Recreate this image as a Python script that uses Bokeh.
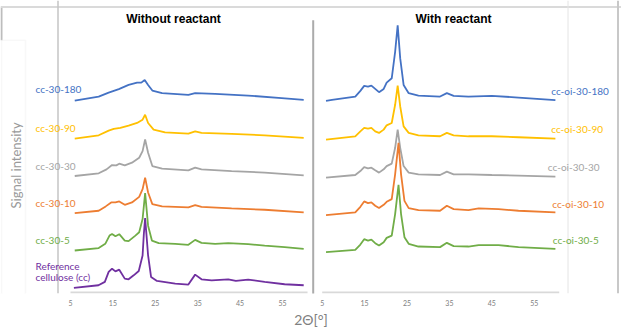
import numpy as np
from bokeh.plotting import figure
from bokeh.models import Range1d, Label, Span, BoxAnnotation, FixedTicker, CustomJSTickFormatter
from bokeh.embed import file_html
from bokeh.resources import INLINE

# ---------------- data (2θ in degrees, displayed signal in a.u.) ----------------
TICK_LABELS = [5, 15, 25, 35, 45, 55]

# Without reactant
ref_cc_x = [5.8, 11.6, 13.1, 14.0, 14.8, 15.6, 16.5, 17.8, 18.7, 19.9, 21.1, 22.0, 22.3, 22.6, 22.9, 23.3, 24.0, 25.4, 29.7, 32.8, 34.4, 35.9, 38.3, 42.2, 44.0, 46.9, 50.8, 55.5, 60.0]
ref_cc_y = [5.7, 8.3, 11.7, 21.7, 25.0, 22.3, 24.0, 15.0, 14.3, 18.3, 22.7, 38.3, 60.0, 76.0, 60.0, 38.3, 16.7, 12.7, 10.0, 9.0, 19.0, 14.3, 13.3, 14.3, 12.7, 14.0, 11.7, 9.3, 8.3]

cc_30_5_x = [6.0, 11.65, 13.2, 14.2, 14.8, 15.6, 16.5, 17.8, 18.7, 20.3, 21.2, 22.0, 22.6, 23.3, 24.2, 25.8, 29.7, 32.8, 34.4, 35.9, 39.1, 42.2, 46.9, 50.8, 55.5, 60.0]
cc_30_5_y = [43.3, 45.7, 50.0, 58.3, 60.0, 57.7, 59.7, 53.3, 52.7, 58.3, 61.7, 75.0, 101.0, 68.3, 53.3, 50.7, 50.0, 49.0, 54.0, 51.0, 50.0, 50.7, 49.7, 48.3, 46.7, 45.0]

cc_30_10_x = [6.0, 11.65, 13.3, 14.6, 15.6, 16.5, 17.8, 19.5, 21.2, 22.0, 22.6, 23.3, 24.3, 26.6, 32.8, 34.4, 35.9, 43.0, 50.8, 60.0]
cc_30_10_y = [81.0, 83.3, 87.7, 91.7, 91.7, 92.7, 89.3, 91.7, 97.3, 105.0, 116.7, 101.7, 90.0, 87.7, 86.7, 89.0, 87.3, 85.7, 84.3, 81.7]

cc_30_30_x = [6.0, 11.65, 13.5, 14.8, 15.8, 16.5, 17.8, 19.5, 21.2, 22.0, 22.6, 23.3, 24.3, 26.6, 32.8, 34.4, 35.9, 43.0, 50.8, 60.0]
cc_30_30_y = [118.3, 121.0, 125.0, 129.3, 129.0, 130.7, 129.0, 131.7, 136.7, 143.3, 155.0, 141.7, 128.3, 125.7, 124.0, 126.7, 125.0, 123.3, 121.7, 119.0]

cc_30_90_x = [6.0, 11.65, 14.0, 15.2, 16.75, 18.7, 20.7, 22.0, 22.6, 23.3, 24.6, 27.3, 32.8, 34.4, 35.9, 43.0, 50.8, 60.0]
cc_30_90_y = [156.0, 159.3, 164.0, 165.7, 166.7, 169.0, 171.7, 175.0, 180.0, 171.7, 165.0, 162.3, 161.0, 163.3, 161.7, 160.7, 159.3, 156.7]

cc_30_180_x = [6.0, 11.65, 14.0, 16.4, 18.7, 20.7, 21.7, 22.5, 23.3, 24.3, 26.6, 32.8, 34.4, 39.1, 46.9, 54.8, 60.0]
cc_30_180_y = [194.3, 198.3, 202.3, 205.7, 210.0, 212.3, 212.3, 215.0, 210.0, 204.3, 201.7, 200.0, 201.7, 201.0, 199.3, 196.7, 195.0]

# With reactant
oi_180_x = [5.9, 7.3, 12.8, 14.0, 14.9, 15.8, 16.6, 17.5, 18.4, 19.5, 20.2, 21.4, 22.2, 22.8, 23.4, 24.2, 25.4, 27.7, 32.8, 34.4, 36.0, 39.5, 45.0, 51.3, 60.0]
oi_180_y = [194.0, 195.0, 198.3, 204.0, 209.0, 208.3, 209.3, 206.0, 202.7, 206.0, 212.3, 216.7, 243.3, 270.0, 236.7, 210.0, 201.7, 199.3, 198.3, 201.7, 199.0, 198.3, 199.0, 197.3, 194.7]

oi_90_x = [5.9, 12.8, 14.0, 14.9, 15.8, 16.6, 17.5, 18.4, 19.5, 20.2, 21.4, 22.2, 22.8, 23.4, 24.2, 25.4, 27.7, 32.8, 34.4, 36.0, 39.5, 45.0, 51.3, 60.0]
oi_90_y = [155.0, 158.3, 163.3, 166.7, 166.0, 166.7, 163.3, 161.7, 165.0, 169.3, 171.7, 190.0, 209.3, 188.3, 168.3, 161.7, 159.3, 158.3, 161.7, 159.3, 158.3, 158.3, 157.3, 156.0]

oi_30_x = [5.9, 12.8, 14.0, 14.9, 15.8, 16.6, 17.5, 18.4, 19.5, 20.2, 21.4, 22.2, 22.8, 23.4, 24.2, 25.4, 27.7, 32.8, 34.4, 36.0, 39.5, 45.0, 51.3, 60.0]
oi_30_y = [116.7, 119.3, 123.3, 127.3, 126.0, 126.7, 124.0, 121.7, 125.0, 128.3, 130.7, 146.7, 165.0, 146.7, 128.3, 121.7, 120.0, 119.3, 122.7, 120.0, 120.0, 119.3, 118.7, 117.7]

oi_10_x = [5.9, 12.8, 14.0, 14.9, 15.8, 16.6, 17.5, 18.4, 19.5, 20.2, 21.4, 22.2, 23.0, 23.6, 24.4, 25.4, 27.7, 32.8, 34.4, 36.0, 39.5, 41.9, 46.6, 51.3, 60.0]
oi_10_y = [79.0, 81.7, 87.3, 92.7, 91.0, 91.7, 88.3, 86.0, 89.3, 92.3, 95.0, 120.0, 151.7, 120.0, 93.3, 86.0, 84.0, 83.3, 88.3, 85.0, 84.0, 85.7, 85.0, 83.3, 81.7]

oi_5_x = [5.9, 12.8, 14.0, 14.9, 15.8, 16.6, 17.5, 18.4, 19.5, 20.2, 21.4, 22.2, 23.0, 23.6, 24.4, 25.4, 27.7, 32.8, 34.4, 36.0, 39.5, 41.9, 46.6, 51.3, 60.0]
oi_5_y = [41.7, 44.0, 49.3, 54.7, 53.3, 54.3, 50.7, 48.3, 51.7, 56.0, 58.3, 80.0, 109.3, 80.0, 56.7, 50.0, 47.3, 46.7, 51.0, 47.7, 47.3, 48.7, 48.7, 46.7, 45.0]

left_names = ["Reference cellulose (cc)", "cc-30-5", "cc-30-10", "cc-30-30", "cc-30-90", "cc-30-180"]
right_names = ["cc-oi-30-5", "cc-oi-30-10", "cc-oi-30-30", "cc-oi-30-90", "cc-oi-30-180"]

# ---------------- layout helpers ----------------
W, H = 621, 327
PX = 4.24            # pixels per degree
X0_REF = 70.0        # pixel of 2θ = 5 (left panel)
RIGHT0_REF = 321.7   # pixel of 2θ = 5 (right panel)
OFF = (RIGHT0_REF - X0_REF) / PX
BASE_REF = 295       # pixel row of the axis base line
AX_END = 60.9

def xr(px):
    return 5 + (px - X0_REF) / PX

def yr(py):
    return BASE_REF - py

C_BLUE, C_GOLD, C_GRAY, C_ORANGE, C_GREEN, C_PURPLE = "#4472C4", "#FFC000", "#A5A5A5", "#ED7D31", "#70AD47", "#7030A0"

p = figure(width=W, height=H, output_backend="svg", toolbar_location=None,
           x_range=Range1d(xr(0), xr(W)), y_range=Range1d(0, BASE_REF),
           y_axis_location=None, min_border_left=0, min_border_right=0,
           min_border_top=0, min_border_bottom=int(H - BASE_REF),
           title="2Θ[°]", title_location="below")
p.outline_line_color = None
p.grid.visible = False
p.background_fill_color = "white"
p.title.align = "center"
p.title.offset = 8.5
p.title.standoff = 0
p.title.text_font = "Lato"
p.title.text_font_size = "14px"
p.title.text_font_style = "normal"
p.title.text_color = "#808080"

# decorations (frames of the original figure)
p.add_layout(Span(location=yr(6.5), dimension="width", line_color="#DADADA", line_width=2))
p.add_layout(Span(location=xr(57.5), dimension="height", line_color="#C4C4C4", line_width=1.5))
p.add_layout(Span(location=xr(567.5), dimension="height", line_color="#E4E4E4", line_width=1))
p.add_layout(Span(location=xr(617.5), dimension="height", line_color="#C8C8C8", line_width=2))
p.add_layout(BoxAnnotation(left=xr(1), right=xr(25), top=yr(40), bottom=yr(296),
                           fill_color=None, line_color="#E8E8E8", line_width=1.5))
p.segment(x0=[xr(1)], y0=[yr(7)], x1=[xr(1)], y1=[yr(40)], line_color="#BDBDBD", line_width=2)
p.segment(x0=[xr(312.7)], y0=[yr(20)], x1=[xr(312.7)], y1=[yr(303)], line_color="#ABABAB", line_width=2)

# axis base lines
p.segment(x0=[5, 5 + OFF], y0=[1, 1], x1=[AX_END, AX_END + OFF], y1=[1, 1], line_color="#D9D9D9", line_width=2)

# series
left = [(ref_cc_x, ref_cc_y, C_PURPLE), (cc_30_180_x, cc_30_180_y, C_BLUE), (cc_30_90_x, cc_30_90_y, C_GOLD),
        (cc_30_30_x, cc_30_30_y, C_GRAY), (cc_30_10_x, cc_30_10_y, C_ORANGE), (cc_30_5_x, cc_30_5_y, C_GREEN)]
for xs, ys, c in left:
    p.line(xs, ys, line_color=c, line_width=1.8)

right = [(oi_180_x, oi_180_y, C_BLUE), (oi_90_x, oi_90_y, C_GOLD), (oi_30_x, oi_30_y, C_GRAY),
         (oi_10_x, oi_10_y, C_ORANGE), (oi_5_x, oi_5_y, C_GREEN)]
for xs, ys, c in right:
    p.line(np.array(xs) + OFF, ys, line_color=c, line_width=1.8)

# x axis
ticks = TICK_LABELS + [t + OFF for t in TICK_LABELS]
ax = p.xaxis[0]
ax.ticker = FixedTicker(ticks=ticks)
ax.formatter = CustomJSTickFormatter(args=dict(off=OFF),
                                     code="var v = tick > 61 ? tick - off : tick; return Math.round(v).toString();")
ax.axis_line_color = None
ax.major_tick_line_color = None
ax.minor_tick_line_color = None
ax.major_tick_out = 0
ax.major_tick_in = 0
ax.minor_tick_out = 0
ax.minor_tick_in = 0
ax.major_label_text_font_size = "7px"
ax.major_label_text_color = "#808080"
ax.major_label_text_font = "Lato"
ax.major_label_standoff = 6

FONT = "Lato"
def lab(x, y, text, color, size="10px", align="left", style="normal", font=FONT, angle=0.0):
    p.add_layout(Label(x=x, y=y, text=text, text_color=color, text_font_size=size, text_align=align,
                       text_baseline="middle", text_font_style=style, text_font=font, angle=angle))

lab(xr(173), yr(18.5), "Without reactant", "#000000", size="12px", align="center", style="bold", font="Liberation Sans")
lab(xr(453), yr(18.5), "With reactant", "#000000", size="12px", align="center", style="bold", font="Liberation Sans")

lab(xr(35), yr(89.5), left_names[5], C_BLUE)
lab(xr(35), yr(128), left_names[4], C_GOLD)
lab(xr(35), yr(166.5), left_names[3], C_GRAY)
lab(xr(35), yr(204), left_names[2], C_ORANGE)
lab(xr(35), yr(241), left_names[1], C_GREEN)
lab(xr(35), yr(267), "Reference", C_PURPLE)
lab(xr(35), yr(278.5), "cellulose (cc)", C_PURPLE)

lab(xr(550.7), yr(91), right_names[4], C_BLUE)
lab(xr(550.7), yr(129), right_names[3], C_GOLD)
lab(xr(547.3), yr(167.5), right_names[2], C_GRAY)
lab(xr(551.7), yr(205), right_names[1], C_ORANGE)
lab(xr(552.3), yr(241.5), right_names[0], C_GREEN)

lab(xr(15.5), yr(166), "Signal intensity", "#9A9A9A", size="13px", align="center", angle=float(np.pi / 2))

open("out.html", "w").write(file_html(p, INLINE))
